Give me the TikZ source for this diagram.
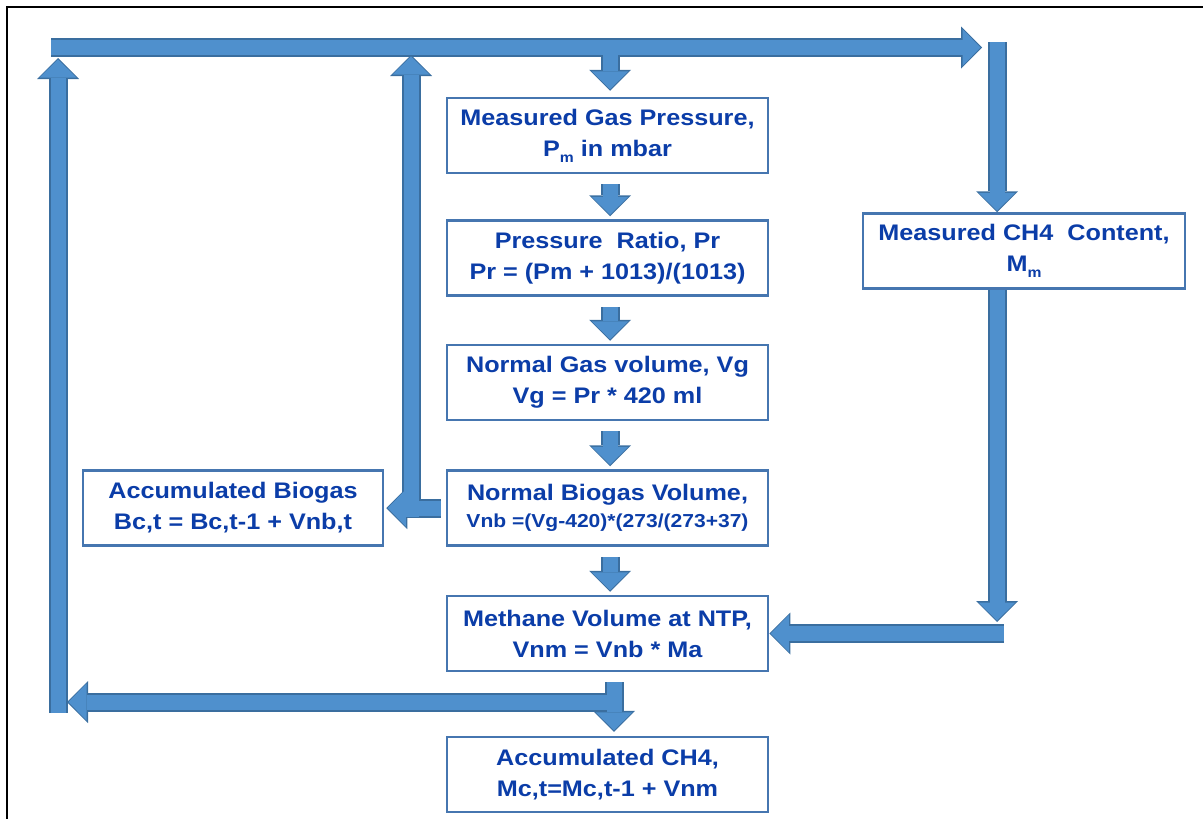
\documentclass[tikz,border=0pt]{standalone}
\usepackage{fontspec}
\setmainfont{Liberation Sans}[FakeStretch=1.12]
\usetikzlibrary{arrows.meta}
\definecolor{arrowfill}{HTML}{4F90CD}
\definecolor{arrowline}{HTML}{3A6E9F}
\definecolor{boxblue}{HTML}{4676B0}
\definecolor{txtblue}{HTML}{0B3DA8}
\newcommand{\lowsub}[1]{\raisebox{-6pt}{\fontsize{14}{14}\selectfont #1}}

\begin{document}
\begin{tikzpicture}[x=1pt,y=-1pt,
  box/.style={draw=boxblue,line width=2.5pt,fill=white,minimum width=321pt,minimum height=75pt,
    inner sep=0pt,align=center,text=txtblue,font=\bfseries\fontsize{22.5}{31}\selectfont},
  arr edge/.style={draw=arrowline,line width=19pt,-{Triangle[length=21pt,width=42pt,line width=0pt]}},
  arr core/.style={draw=arrowfill,line width=15pt,-{Triangle[length=18pt,width=37pt,line width=0pt,sep=1.5pt]}}]
  \useasboundingbox (0,0) rectangle (1203,819);
  % Frame
  \draw[line width=2pt] (7,819) -- (7,7) -- (1203,7);
  % Main column
  \node[box] (gp) at (607.5,135.5) {Measured Gas Pressure,\\P\lowsub{m} in mbar};
  \node[box] (pr) at (607.5,258) {Pressure\ \ Ratio, Pr\\Pr = (Pm + 1013)/(1013)};
  \node[box] (gv) at (607.5,382.5) {Normal Gas volume, Vg\\Vg = Pr * 420 ml};
  \node[box] (bv) at (607.5,508) {Normal Biogas Volume,\\[-4pt]{\fontsize{18.8}{26}\selectfont Vnb =(Vg-420)*(273/(273+37)}};
  \node[box] (mv) at (607.5,633.5) {Methane Volume at NTP,\\Vnm = Vnb * Ma};
  \node[box] (mc) at (607.5,774.5) {Accumulated CH4,\\Mc,t=Mc,t-1 + Vnm};
  % Side boxes
  \node[box,minimum width=300pt] (bc) at (233,508) {Accumulated Biogas\\Bc,t = Bc,t-1 + Vnb,t};
  \node[box,minimum width=322pt] (ch) at (1024,251) {Measured CH4\ \ Content,\\M\lowsub{m}};
  % Loop points
  \coordinate (tl) at (51,47.5);
  \coordinate (tr) at (982,47.5);
  \coordinate (split) at (610,50);
  \coordinate (lbot) at (58,713);
  \coordinate (ltop) at (58,58);
  \coordinate (bup) at (411,517);
  \coordinate (btop) at (411,55);
  \coordinate (rtop) at (997,42);
  \coordinate (rbot) at (997,622);
  \coordinate (rin) at (1004,633.5);
  \coordinate (mdown) at (614,682);
  \coordinate (mbar) at (614,702);
  \coordinate (mleft) at (67,702);
  % Block arrows, outline first then fill
  \foreach \lyr in {edge,core} {
    \draw[arr \lyr] (lbot) -- (ltop);
    \draw[arr \lyr] (bup) -- (btop);
    \draw[arr \lyr] (tl) -- (tr);
    \draw[arr \lyr,shorten >=6pt] (split) -- (gp.north -| split);
    \draw[arr \lyr,shorten <=10pt,shorten >=3pt] (gp.south -| split) -- (pr.north -| split);
    \draw[arr \lyr,shorten <=10pt,shorten >=3pt] (pr.south -| split) -- (gv.north -| split);
    \draw[arr \lyr,shorten <=10pt,shorten >=3pt] (gv.south -| split) -- (bv.north -| split);
    \draw[arr \lyr,shorten <=10pt,shorten >=3pt] (bv.south -| split) -- (mv.north -| split);
    \draw[arr \lyr,shorten <=5pt,shorten >=2pt] (bv.west) -- (bc.east);
    \draw[arr \lyr] (rtop) -- (ch.north -| rtop);
    \draw[arr \lyr] (ch.south -| rtop) -- (rbot);
    \draw[arr \lyr] (rin) -- (mv.east);
    \draw[arr \lyr] (mbar) -- (mleft);
    \draw[arr \lyr,shorten >=4pt] (mdown) -- (mc.north -| mdown);
  }
\end{tikzpicture}
\end{document}
